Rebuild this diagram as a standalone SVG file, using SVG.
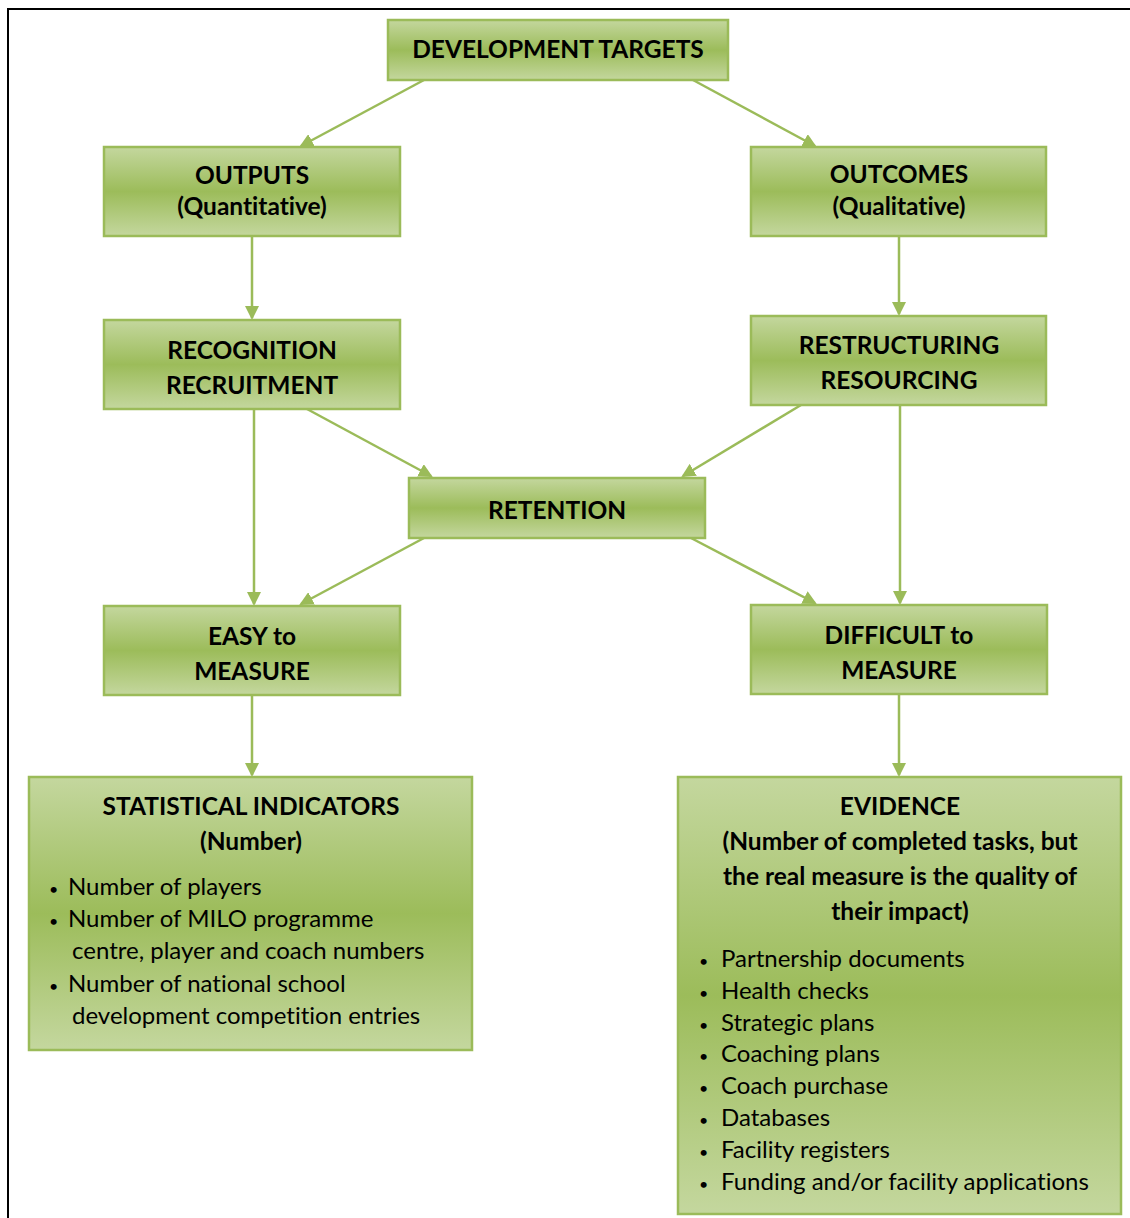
<svg xmlns="http://www.w3.org/2000/svg" width="1130" height="1218" viewBox="0 0 1130 1218">
<defs>
<linearGradient id="g" x1="0" y1="0" x2="0" y2="1">
<stop offset="0" stop-color="#C4D79E"/>
<stop offset="0.5" stop-color="#9CBC5A"/>
<stop offset="1" stop-color="#C4D79E"/>
</linearGradient>
<marker id="ah" markerWidth="14" markerHeight="14" refX="12" refY="7" orient="auto" markerUnits="userSpaceOnUse">
<path d="M0,0 L14,7 L0,14 Z" fill="#9BBB59"/>
</marker>
<style>
text{font-variant-ligatures:none;font-feature-settings:"liga" 0}
.box{fill:url(#g);stroke:#9BBB59;stroke-width:2.5}
.t{font-family:Lato,"Liberation Sans",sans-serif;font-weight:bold;font-size:24.5px;fill:#000;text-anchor:middle}
.b{font-family:Lato,"Liberation Sans",sans-serif;font-size:24px;fill:#000}
.d{font-family:Lato,"Liberation Sans",sans-serif;font-size:16px;fill:#000}
.c line{stroke:#9BBB59;stroke-width:2.5;marker-end:url(#ah)}
</style>
</defs>
<rect width="1130" height="1218" fill="#fff"/>
<path d="M8,1218 V9 H1130" fill="none" stroke="#000" stroke-width="2"/>
<g class="c" id="connectors">
<line x1="424" y1="80" x2="301" y2="146"/>
<line x1="693" y1="80" x2="815" y2="146"/>
<line x1="252" y1="236" x2="252" y2="318"/>
<line x1="899" y1="236" x2="899" y2="314"/>
<line x1="307" y1="409" x2="431" y2="476"/>
<line x1="801" y1="405" x2="683" y2="476"/>
<line x1="254" y1="409" x2="254" y2="604"/>
<line x1="900" y1="405" x2="900" y2="603"/>
<line x1="424" y1="538" x2="301" y2="604"/>
<line x1="691" y1="538" x2="815" y2="603"/>
<line x1="252" y1="695" x2="252" y2="775"/>
<line x1="899" y1="694" x2="899" y2="775"/>
</g>
<g id="dev-targets"><rect class="box" x="388" y="20" width="340" height="60"/><text class="t" x="558" y="58">DEVELOPMENT TARGETS</text></g>
<g id="outputs"><rect class="box" x="104" y="147" width="296" height="89"/><text class="t" x="252" y="184">OUTPUTS</text><text class="t" x="252" y="215">(Quantitative)</text></g>
<g id="outcomes"><rect class="box" x="751" y="147" width="295" height="89"/><text class="t" x="899" y="183">OUTCOMES</text><text class="t" x="899" y="215">(Qualitative)</text></g>
<g id="recognition"><rect class="box" x="104" y="320" width="296" height="89"/><text class="t" x="252" y="359">RECOGNITION</text><text class="t" x="252" y="394">RECRUITMENT</text></g>
<g id="restructuring"><rect class="box" x="751" y="316" width="295" height="89"/><text class="t" x="899" y="354">RESTRUCTURING</text><text class="t" x="899" y="389">RESOURCING</text></g>
<g id="retention"><rect class="box" x="409" y="478" width="296" height="60"/><text class="t" x="557" y="519">RETENTION</text></g>
<g id="easy"><rect class="box" x="104" y="606" width="296" height="89"/><text class="t" x="252" y="645">EASY to</text><text class="t" x="252" y="680">MEASURE</text></g>
<g id="difficult"><rect class="box" x="751" y="605" width="296" height="89"/><text class="t" x="899" y="644">DIFFICULT to</text><text class="t" x="899" y="679">MEASURE</text></g>
<g id="statistical"><rect class="box" x="29" y="777" width="443" height="273"/>
<text class="t" x="251" y="815">STATISTICAL INDICATORS</text><text class="t" x="251" y="850">(Number)</text>
<text class="d" x="49" y="895">•</text><text class="b" x="68" y="895">Number of players</text>
<text class="d" x="49" y="927">•</text><text class="b" x="68" y="927">Number of MILO programme</text>
<text class="b" x="72" y="959">centre, player and coach numbers</text>
<text class="d" x="49" y="992">•</text><text class="b" x="68" y="992">Number of national school</text>
<text class="b" x="72" y="1024">development competition entries</text>
</g>
<g id="evidence"><rect class="box" x="678" y="777" width="443" height="437"/>
<text class="t" x="900" y="815">EVIDENCE</text>
<text class="t" x="900" y="850">(Number of completed tasks, but</text>
<text class="t" x="900" y="885">the real measure is the quality of</text>
<text class="t" x="900" y="920">their impact)</text>
<text class="d" x="699" y="967">•</text><text class="b" x="721" y="967">Partnership documents</text>
<text class="d" x="699" y="999">•</text><text class="b" x="721" y="999">Health checks</text>
<text class="d" x="699" y="1031">•</text><text class="b" x="721" y="1031">Strategic plans</text>
<text class="d" x="699" y="1062">•</text><text class="b" x="721" y="1062">Coaching plans</text>
<text class="d" x="699" y="1094">•</text><text class="b" x="721" y="1094">Coach purchase</text>
<text class="d" x="699" y="1126">•</text><text class="b" x="721" y="1126">Databases</text>
<text class="d" x="699" y="1158">•</text><text class="b" x="721" y="1158">Facility registers</text>
<text class="d" x="699" y="1190">•</text><text class="b" x="721" y="1190">Funding and/or facility applications</text>
</g>
</svg>
